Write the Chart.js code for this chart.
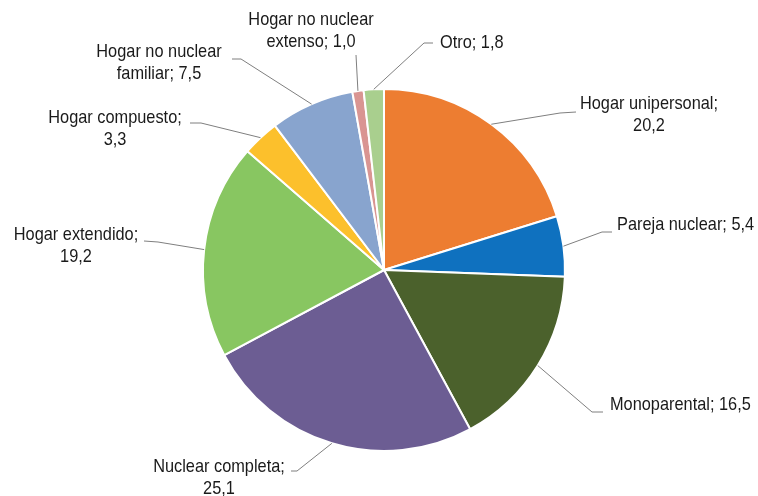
<!DOCTYPE html>
<html>
<head>
<meta charset="utf-8">
<script src="https://cdn.jsdelivr.net/npm/chart.js@4"></script>
<style>
  html, body { margin: 0; padding: 0; background: #fff; }
  #wrap { width: 758px; height: 496px; }
</style>
</head>
<body>
<div id="wrap"><canvas id="chart-hogares"></canvas></div>
<script>
const categories = [
  "Hogar unipersonal", "Pareja nuclear", "Monoparental", "Nuclear completa",
  "Hogar extendido", "Hogar compuesto", "Hogar no nuclear familiar",
  "Hogar no nuclear extenso", "Otro"
];
const shares = [20.2, 5.4, 16.5, 25.1, 19.2, 3.3, 7.5, 1.0, 1.8];
// how each label is broken into lines (text only)
const labelLines = [
  ["Hogar unipersonal;", "20,2"],
  ["Pareja nuclear; 5,4"],
  ["Monoparental; 16,5"],
  ["Nuclear completa;", "25,1"],
  ["Hogar extendido;", "19,2"],
  ["Hogar compuesto;", "3,3"],
  ["Hogar no nuclear", "familiar; 7,5"],
  ["Hogar no nuclear", "extenso; 1,0"],
  ["Otro; 1,8"]
];

const colors = ["#ED7D31", "#0F71BF", "#4B612C", "#6C5D93", "#88C661",
                "#FCC02C", "#88A4CE", "#D99592", "#A9CF8E"];

// label placement: text anchor (x, middle of first line), alignment, leader bends
const labelLayout = [
  { x: 649, y: 104, align: "center", pts: [[560, 113], [576, 112]] },
  { x: 617, y: 225, align: "left",   pts: [[602, 232], [612, 232]] },
  { x: 610, y: 405, align: "left",   pts: [[592, 412], [603, 412]] },
  { x: 219, y: 467, align: "center", pts: [[297, 471], [291, 471]] },
  { x: 76,  y: 235, align: "center", pts: [[158, 242], [144, 241]] },
  { x: 115, y: 118, align: "center", pts: [[201, 123], [190, 123]] },
  { x: 159, y: 52,  align: "center", pts: [[241, 59], [232, 59]] },
  { x: 311, y: 20,  align: "center", pts: [[356, 55]] },
  { x: 440, y: 43,  align: "left",   pts: [[424, 43], [433, 43]] }
];

// narrow look: regular sans squeezed horizontally
const FONT = '19px "Liberation Sans", Arial, sans-serif';
const SQUEEZE = 0.86;

const leaderLabels = {
  id: "leaderLabels",
  afterDraw(chart) {
    const ctx = chart.ctx;
    const arcs = chart.getDatasetMeta(0).data;
    ctx.save();
    arcs.forEach((arc, i) => {
      const p = arc.getProps(["x", "y", "startAngle", "endAngle", "outerRadius"], true);
      const mid = (p.startAngle + p.endAngle) / 2;
      const ex = p.x + Math.cos(mid) * p.outerRadius;
      const ey = p.y + Math.sin(mid) * p.outerRadius;
      const lay = labelLayout[i];
      ctx.strokeStyle = "#7f7f7f";
      ctx.lineWidth = 1;
      ctx.beginPath();
      ctx.moveTo(ex, ey);
      lay.pts.forEach(q => ctx.lineTo(q[0], q[1]));
      ctx.stroke();

      ctx.fillStyle = "#1a1a1a";
      ctx.font = FONT;
      ctx.textBaseline = "middle";
      ctx.textAlign = lay.align;
      labelLines[i].forEach((t, k) => {
        ctx.save();
        ctx.translate(lay.x, lay.y + k * 22);
        ctx.scale(SQUEEZE, 1);
        ctx.fillText(t, 0, 0);
        ctx.restore();
      });
    });
    ctx.restore();
  }
};

new Chart(document.getElementById("chart-hogares"), {
  type: "pie",
  data: {
    labels: categories,
    datasets: [{
      data: shares,
      backgroundColor: colors,
      borderColor: "#ffffff",
      borderWidth: 2,
      hoverOffset: 0
    }]
  },
  options: {
    responsive: true,
    maintainAspectRatio: false,
    animation: false,
    radius: 181,
    layout: { padding: { top: 44, bottom: 0, left: 10, right: 0 } },
    plugins: {
      legend: { display: false },
      tooltip: { enabled: false }
    }
  },
  plugins: [leaderLabels]
});
</script>
</body>
</html>
